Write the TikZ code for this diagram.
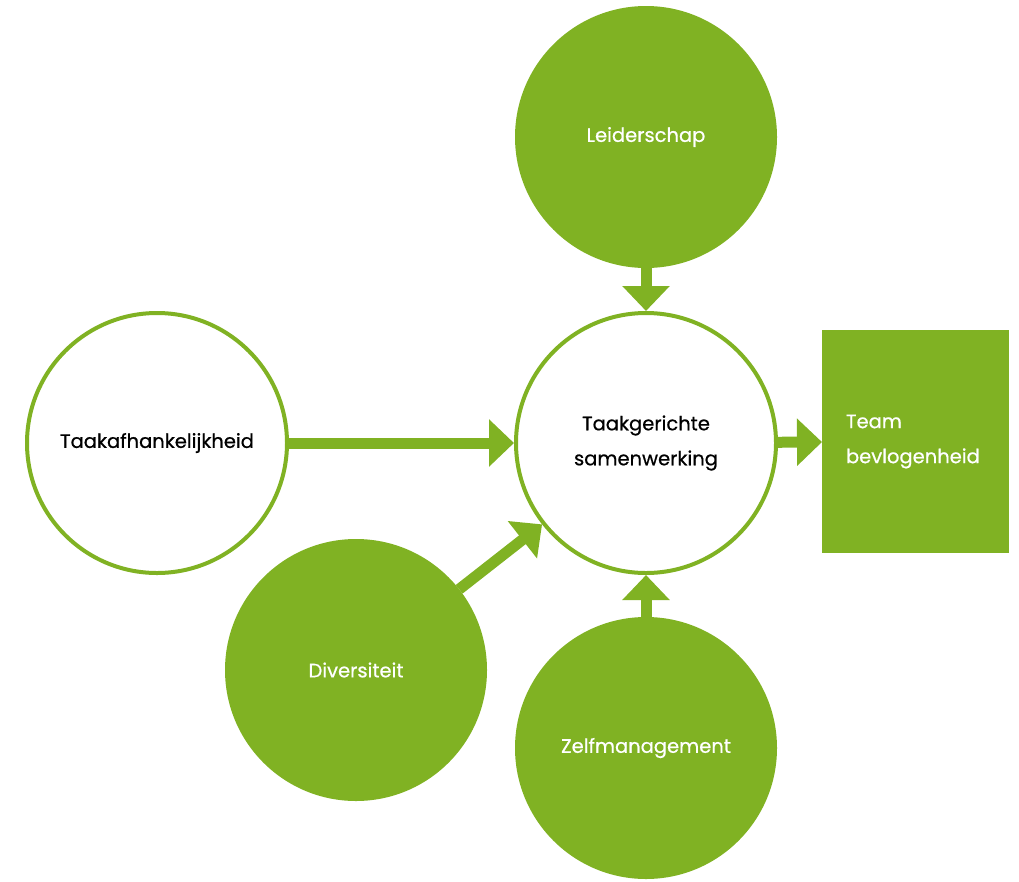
\documentclass[tikz,border=0pt]{standalone}
\usepackage{fontspec}
\setmainfont{Poppins}[FakeBold=0.6]
\usetikzlibrary{arrows.meta}
\definecolor{lime}{RGB}{128,178,35}
\begin{document}
\begin{tikzpicture}[x=1pt,y=-1pt,
  lab/.style={font=\fontsize{19.5}{35}\selectfont},
  full/.style={lab,circle,fill=lime,minimum size=262pt,inner sep=0pt,outer sep=0pt,text=white,align=center},
  ring/.style={lab,circle,draw=lime,line width=4pt,fill=white,minimum size=260pt,inner sep=0pt,text=black,align=center},
  box/.style={lab,rectangle,fill=lime,minimum width=187pt,minimum height=223pt,inner sep=0pt,outer sep=0pt,text=white,align=left,text width=139pt},
  arr/.style={draw=lime,line width=11pt,-{Triangle[width=46pt,length=25pt]}}]
\useasboundingbox (0,0) rectangle (1019,881);
\node[full] (L) at (646,137) {Leiderschap};
\node[ring] (T) at (646,443) {Taakgerichte\\samenwerking};
\node[ring] (A) at (157,443) {Taakafhankelijkheid};
\node[full] (D) at (356,670) {Diversiteit};
\node[full] (Z) at (646,748) {Zelfmanagement};
\node[box] (B) at (915.5,441.5) {Team\\bevlogenheid};
\draw[arr] (L) -- (T);
\draw[arr] (A) -- (T);
\draw[arr] (D) -- (T);
\draw[arr] (Z) -- (T);
\draw[arr] (T) -- (B);
\end{tikzpicture}
\end{document}
